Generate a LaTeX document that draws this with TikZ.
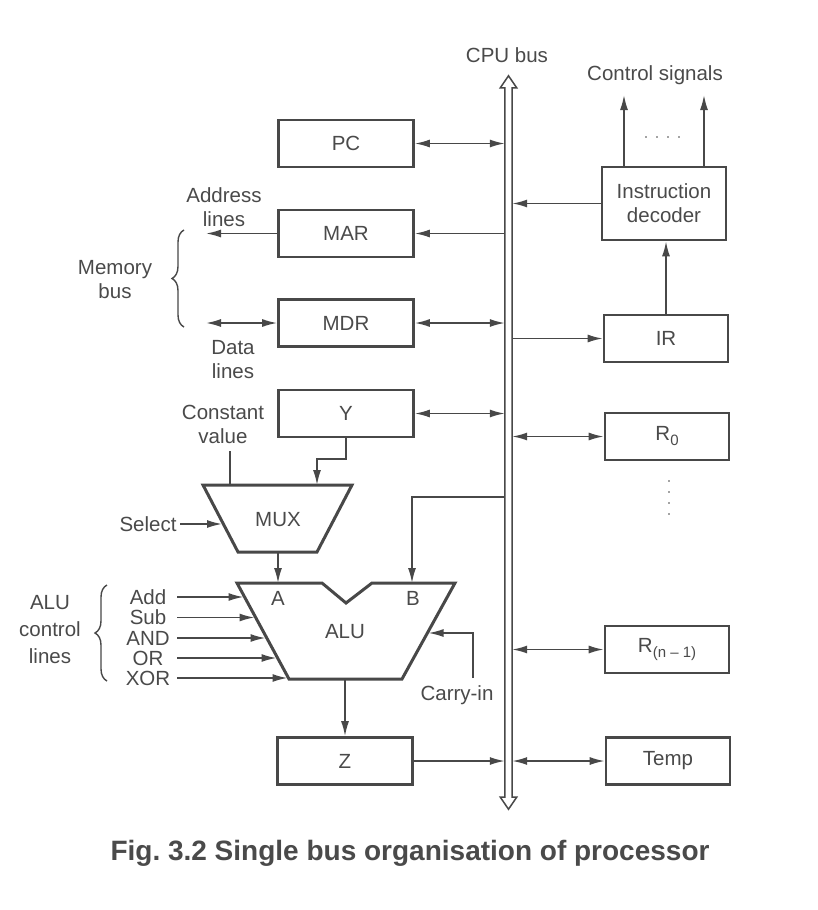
\documentclass[tikz,border=0pt]{standalone}
\usepackage{fontspec}
\setmainfont{Liberation Sans}
\usetikzlibrary{arrows.meta,calc,decorations.pathreplacing}
\definecolor{ink}{HTML}{484848}
\definecolor{txt}{HTML}{4A4A4A}
\newcommand{\regsub}[1]{\kern0.3pt\raisebox{-5pt}{\fontsize{15}{15}\selectfont #1}}
\begin{document}
\begin{tikzpicture}[x=1pt,y=-1pt,
  every node/.style={text=txt, font=\fontsize{20.5}{24}\selectfont},
  reg/.style={draw=ink, line width=2.6pt, minimum height=47pt, inner sep=0pt},
  lreg/.style={reg, minimum width=135pt},
  rreg/.style={reg, minimum width=124pt},
  conn/.style={draw=ink, line width=1.7pt},
  arr/.style={conn, -{Latex[length=15pt,width=8pt]}},
  biarr/.style={conn, {Latex[length=15pt,width=8pt]}-{Latex[length=15pt,width=8pt]}},
  unit/.style={draw=ink, line width=3pt, line join=miter},
  brc/.style={draw=ink, line width=1.4pt, decorate, decoration={brace, amplitude=12pt}},
  lbl/.style={align=center, inner sep=1pt}
]
\useasboundingbox (0,0) rectangle (817,910);
\fill[white] (0,0) rectangle (817,910);

% CPU bus
\node[minimum width=7pt, minimum height=709pt, inner sep=0pt] (bus) at (508.5,442.5) {};
\draw[draw=ink, line width=1.5pt, line join=miter]
  (bus.north west) -- ++(-4.5,0) -- ($(bus.north)+(0,-12)$) -- ($(bus.north east)+(4.5,0)$)
  -- (bus.north east) -- (bus.south east) -- ++(4.5,0) -- ($(bus.south)+(0,12)$)
  -- ($(bus.south west)+(-4.5,0)$) -- (bus.south west) -- cycle;
\node (buslbl) at (507,55) {CPU bus};

% left registers
\node[lreg] (pc)  at (346,143.5) {PC};
\node[lreg] (mar) at (346,233.5) {MAR};
\node[lreg] (mdr) at (346,323) {MDR};
\node[lreg] (ybox) at (346,413.5) {Y};
\node[lreg] (zbox) at (345,761) {Z};

% right registers
\node[rreg, minimum height=73pt, align=center] (dec) at (664,203.5) {Instruction\\decoder};
\node[rreg] (ir)   at (666,338.5) {IR};
\node[rreg] (r0)   at (667,436.5) {R\regsub{0}};
\node[rreg] (rn)   at (667,649.5) {R\regsub{(n -- 1)}};
\node[rreg] (temp) at (668,761) {Temp};

% bus connections
\draw[biarr] (pc.east) -- (pc.east -| bus.west);
\draw[arr] (mar.east -| bus.west) -- (mar.east);
\draw[biarr] (mdr.east) -- (mdr.east -| bus.west);
\draw[biarr] (ybox.east) -- (ybox.east -| bus.west);
\draw[arr] (zbox.east) -- (zbox.east -| bus.west);
\draw[arr] (dec.west) -- (dec.west -| bus.east);
\draw[arr] (ir.west -| bus.east) -- (ir.west);
\draw[biarr] (r0.west -| bus.east) -- (r0.west);
\draw[biarr] (rn.west -| bus.east) -- (rn.west);
\draw[biarr] (temp.west -| bus.east) -- (temp.west);
\draw[arr] (ir.north) -- (ir.north |- dec.south);

% control signals
\node (cs) at (655,75) {Control signals};
\coordinate (cs1) at (624,95);
\coordinate (cs2) at (704,95);
\draw[arr] (dec.north -| cs1) -- (cs1);
\draw[arr] (dec.north -| cs2) -- (cs2);
\foreach \x in {646,657,668,679} \fill[ink] (\x,137) circle (0.9pt);
\foreach \y in {481,492,503,514} \fill[ink] (669,\y) circle (0.9pt);

% memory side
\node[lbl] (addr) at (224,207) {Address\\lines};
\coordinate (addrend) at (206,233.5);
\draw[arr] (mar.west) -- (addrend);
\node[lbl] (data) at (233,360) {Data\\lines};
\coordinate (dataend) at (206,323);
\draw[biarr] (dataend) -- (mdr.west);
\draw[brc] (184,327) -- (184,230);
\node[lbl] (membus) at (115,280) {Memory\\bus};

% MUX
\draw[unit] (203,485) -- (352,485) -- (317,552) -- (238,552) -- cycle;
\node (mux) at (278,520) {MUX};
\coordinate (muxin1) at (317,485);
\draw[arr] (ybox.south) -- ++(0,21) -| (muxin1);
\node[lbl] (cv) at (223,424) {Constant\\value};
\coordinate (cvtop) at (230,451);
\coordinate (muxin0) at (230,485);
\draw[conn] (cvtop) -- (muxin0);
\node (sel) at (148,524) {Select};
\coordinate (muxsel) at (222,524);
\draw[arr] (sel.east) -- (muxsel);

% ALU
\draw[unit] (237,583) -- (322,583) -- (346,603) -- (372,583) -- (455,583) -- (402,679) -- (289,679) -- cycle;
\node (alu) at (345,632) {ALU};
\node (alua) at (278,598) {A};
\node (alub) at (413,598) {B};
\coordinate (muxout) at (278,552);
\coordinate (aluA) at (278,583);
\draw[arr] (muxout) -- (aluA);
\coordinate (bt) at (0,497);
\coordinate (aluB) at (412,583);
\draw[arr] (bus.west |- bt) -| (aluB);

% ALU control lines
\foreach \nm/\t/\y/\xe in {add/Add/597/243.5, sub/Sub/617.5/254.5, and/AND/638/265.5, or/OR/658/276.5, xor/XOR/678/287.5}{
  \node[minimum width=58pt, inner sep=0pt] (\nm) at (148,\y) {\t};
  \coordinate (\nm e) at (\xe,\y);
  \draw[arr] (\nm.east) -- (\nm e);
}
\draw[brc] (107,681) -- (107,585);
\node[lbl, font=\fontsize{20.5}{27}\selectfont] (aluctl) at (50,630) {ALU\\control\\lines};

% carry-in
\node (cin) at (457,695) {Carry-in};
\coordinate (cinbot) at (473,678);
\coordinate (aluC) at (428.5,633);
\draw[arr] (cinbot) |- (aluC);

% ALU to Z
\coordinate (aluout) at (345,679);
\draw[arr] (aluout) -- (zbox.north);

% caption
\node[font=\fontsize{28}{31}\selectfont\bfseries] (cap) at (410,853) {Fig.\ 3.2 Single bus organisation of processor};
\end{tikzpicture}
\end{document}
